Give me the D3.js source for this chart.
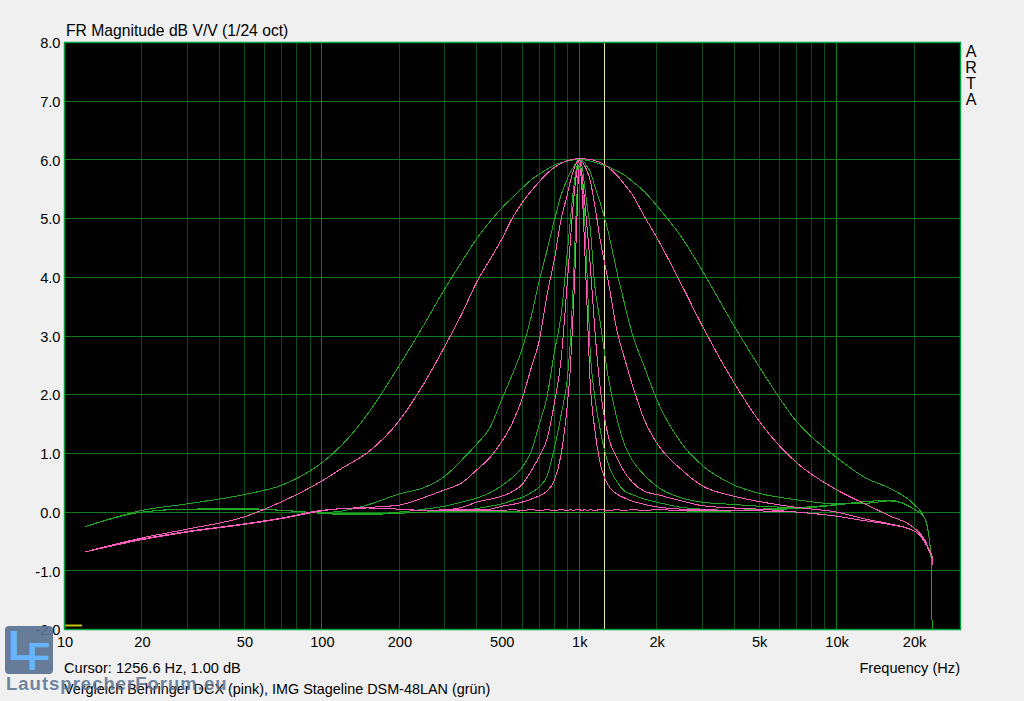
<!DOCTYPE html>
<html lang="en">

<head>
	<meta charset="UTF-8">
	<script src="https://cdn.jsdelivr.net/npm/d3@7"></script>
	<title>FR Magnitude</title>
</head>

<style>
html, body {
	margin: 0;
	padding: 0;
	background: #f0f0f0;
	overflow: hidden;
}
svg {
	display: block;
}
text {
	font-family: "Liberation Sans", Arial, sans-serif;
	font-size: 14.6px;
	fill: #000;
}
.curve {
	fill: none;
	stroke-width: 1;
	shape-rendering: crispEdges;
}
</style>

<body>
	<div id="chart"></div>
</body>

<script>
	// frequencies the curves were read at (Hz)
	let freqs = [12, 20, 30, 50, 70, 100, 120, 150, 200, 250, 300, 350, 400, 450, 500, 550, 600, 650, 700, 750, 800, 850, 900, 925, 950, 975, 1000, 1025, 1050, 1075, 1100, 1150, 1200, 1300, 1400, 1500, 1600, 1800, 2000, 2500, 3000, 4000, 5000, 7000, 10000, 13000, 16000, 20000, 22000, 23000, 23400, 23500, 23700]

	// IMG Stageline (green), wide to narrow Q, dB
	let green1 = [-0.25, 0.03, 0.14, 0.30, 0.46, 0.84, 1.15, 1.66, 2.5, 3.2, 3.8, 4.27, 4.66, 4.95, 5.18, 5.36, 5.52, 5.66, 5.76, 5.84, 5.91, 5.95, 5.98, 5.99, 6.0, 6.01, 6.01, 6.01, 6.0, 5.99, 5.98, 5.96, 5.93, 5.88, 5.81, 5.74, 5.64, 5.45, 5.22, 4.68, 4.12, 3.17, 2.48, 1.54, 0.93, 0.58, 0.41, 0.13, -0.1, -0.52, -0.98, -2.0, null]
	let green2 = [-0.25, 0.0, 0.05, 0.05, 0.03, -0.01, 0.02, 0.12, 0.31, 0.42, 0.61, 0.89, 1.16, 1.44, 1.92, 2.35, 2.78, 3.32, 3.95, 4.46, 4.97, 5.4, 5.68, 5.8, 5.88, 5.96, 6.0, 5.99, 5.95, 5.88, 5.81, 5.55, 5.3, 4.75, 4.1, 3.55, 3.07, 2.45, 1.92, 1.17, 0.8, 0.46, 0.32, 0.21, 0.14, 0.15, 0.19, 0.05, -0.1, -0.52, -0.98, -2.0, null]
	let green3 = [-0.25, 0.0, 0.05, 0.06, 0.03, -0.02, -0.03, -0.03, 0.0, 0.05, 0.1, 0.17, 0.24, 0.33, 0.45, 0.59, 0.76, 1.03, 1.5, 1.97, 2.72, 3.35, 4.45, 5.0, 5.5, 5.85, 6.0, 5.9, 5.55, 5.2, 4.9, 3.85, 3.3, 2.27, 1.6, 1.15, 0.9, 0.62, 0.44, 0.24, 0.17, 0.13, 0.1, 0.08, 0.13, 0.18, 0.2, 0.05, -0.1, -0.52, -0.98, -2.0, null]
	let green4 = [-0.25, 0.0, 0.05, 0.06, 0.03, -0.02, -0.04, -0.04, -0.02, 0.0, 0.01, 0.03, 0.06, 0.1, 0.14, 0.2, 0.25, 0.33, 0.43, 0.62, 1.08, 1.65, 2.3, 2.95, 3.95, 5.2, 5.95, 5.6, 5.0, 3.95, 2.85, 1.95, 1.46, 0.8, 0.52, 0.36, 0.3, 0.22, 0.17, 0.08, 0.05, 0.03, 0.05, 0.07, 0.12, 0.18, 0.2, 0.05, -0.1, -0.52, -0.98, -2.0, null]
	let greenFlat = [-0.25, 0.0, 0.05, 0.06, 0.03, -0.02, -0.04, -0.04, -0.02, 0.0, 0.01, 0.01, 0.01, 0.01, 0.01, 0.01, 0.0, 0.0, 0.0, 0.0, 0.0, 0.0, 0.0, 0.0, 0.0, 0.0, 0.0, 0.0, 0.0, 0.0, 0.0, 0.0, 0.0, 0.0, 0.0, 0.0, 0.0, 0.0, 0.0, 0.0, 0.01, 0.02, 0.04, 0.06, 0.12, 0.18, 0.2, 0.05, -0.1, -0.52, -0.98, -2.0, null]

	// Behringer DCX (pink), wide to narrow Q, dB
	let pink1 = [-0.68, -0.44, -0.29, -0.08, 0.18, 0.53, 0.75, 1.01, 1.56, 2.2, 2.82, 3.38, 3.92, 4.3, 4.65, 5.01, 5.27, 5.47, 5.63, 5.77, 5.87, 5.94, 5.99, 6.0, 6.01, 6.02, 6.02, 6.02, 6.02, 6.01, 6.01, 5.99, 5.96, 5.87, 5.74, 5.58, 5.42, 5.02, 4.68, 3.87, 3.18, 2.2, 1.55, 0.84, 0.38, 0.13, -0.06, -0.27, -0.47, -0.66, -0.72, -0.76, -0.9]
	let pink2 = [-0.68, -0.46, -0.33, -0.2, -0.1, 0.03, 0.06, 0.08, 0.12, 0.25, 0.38, 0.5, 0.72, 0.93, 1.2, 1.52, 1.93, 2.45, 2.93, 3.7, 4.3, 4.98, 5.42, 5.65, 5.82, 5.95, 6.0, 5.97, 5.9, 5.8, 5.67, 5.22, 4.7, 3.9, 3.1, 2.62, 2.2, 1.55, 1.18, 0.72, 0.45, 0.27, 0.18, 0.08, 0.0, -0.12, -0.2, -0.32, -0.5, -0.68, -0.76, -0.8, -0.9]
	let pink3 = [-0.68, -0.47, -0.34, -0.21, -0.11, 0.02, 0.06, 0.07, 0.05, 0.03, 0.04, 0.08, 0.17, 0.22, 0.27, 0.35, 0.47, 0.7, 0.95, 1.25, 1.85, 2.6, 3.95, 4.65, 5.3, 5.75, 6.0, 5.75, 5.3, 4.8, 4.3, 3.1, 2.2, 1.27, 0.93, 0.68, 0.52, 0.35, 0.3, 0.19, 0.11, 0.07, 0.05, 0.0, -0.07, -0.15, -0.21, -0.32, -0.51, -0.68, -0.76, -0.8, -0.9]
	let pink4 = [-0.68, -0.47, -0.34, -0.21, -0.11, 0.02, 0.06, 0.07, 0.05, 0.02, 0.03, 0.04, 0.04, 0.05, 0.1, 0.13, 0.17, 0.22, 0.28, 0.36, 0.54, 0.98, 1.85, 2.5, 3.5, 4.75, 5.9, 5.5, 4.5, 3.4, 2.3, 1.4, 0.88, 0.45, 0.31, 0.24, 0.19, 0.13, 0.09, 0.05, 0.04, 0.03, 0.02, 0.0, -0.07, -0.15, -0.21, -0.32, -0.51, -0.68, -0.76, -0.8, -0.9]
	let pinkFlat = [-0.68, -0.47, -0.34, -0.21, -0.11, 0.02, 0.06, 0.07, 0.05, 0.02, 0.03, 0.03, 0.03, 0.03, 0.03, 0.04, 0.03, 0.04, 0.03, 0.04, 0.03, 0.04, 0.03, 0.04, 0.03, 0.04, 0.04, 0.03, 0.04, 0.03, 0.04, 0.03, 0.04, 0.03, 0.04, 0.03, 0.04, 0.03, 0.04, 0.03, 0.03, 0.03, 0.02, 0.0, -0.07, -0.15, -0.21, -0.32, -0.51, -0.68, -0.76, -0.8, -0.9]

	let greens = [green1, green2, green3, green4, greenFlat]
	let pinks = [pink1, pink2, pink3, pink4, pinkFlat]

	let dbTicks = [-2, -1, 0, 1, 2, 3, 4, 5, 6, 7, 8]
	let freqTicks = [10, 20, 50, 100, 200, 500, 1000, 2000, 5000, 10000, 20000]
	let freqLabels = ['10', '20', '50', '100', '200', '500', '1k', '2k', '5k', '10k', '20k']
	let majorGrid = [100, 1000, 10000]
	let minorGrid = [20, 30, 40, 50, 60, 70, 80, 90, 200, 300, 400, 500, 600, 700, 800, 900, 2000, 3000, 4000, 5000, 6000, 7000, 8000, 9000, 20000]
	let cursorHz = 1256.6
	let markerHz = [10, 11.7]
	let artaLetters = ['A', 'R', 'T', 'A']

	let width = 1024, height = 701
	let plotL = 64.5, plotR = 960.5, plotT = 42.5, plotB = 629.5

	let svg = d3.select('#chart').append('svg')
		.attr('width', width)
		.attr('height', height)

	let x = d3.scaleLog().domain([10, 30300]).range([plotL, plotR])
	let y = d3.scaleLinear().domain([-2, 8]).range([plotB, plotT])

	let plot = svg.append('g')
	plot.append('rect')
		.attr('x', plotL)
		.attr('y', plotT)
		.attr('width', plotR - plotL)
		.attr('height', plotB - plotT)
		.attr('fill', '#000')

	// grid
	let grid = plot.append('g').attr('shape-rendering', 'crispEdges')
	function vlines(vals, color) {
		grid.selectAll(null).data(vals).enter().append('line')
			.attr('x1', d => x(d))
			.attr('x2', d => x(d))
			.attr('y1', plotT)
			.attr('y2', plotB)
			.attr('stroke', color)
	}
	vlines(minorGrid, '#0b4d1c')
	vlines(majorGrid, '#0c7a1c')
	grid.selectAll(null).data(dbTicks).enter().append('line')
		.attr('x1', plotL)
		.attr('x2', plotR)
		.attr('y1', d => y(d))
		.attr('y2', d => y(d))
		.attr('stroke', '#0c7a1c')

	// cursor sits under the curves
	plot.append('line')
		.attr('x1', x(cursorHz))
		.attr('x2', x(cursorHz))
		.attr('y1', plotT)
		.attr('y2', plotB)
		.attr('stroke', '#e8e8a8')
		.attr('shape-rendering', 'crispEdges')

	let line = d3.line()
		.defined(d => d[1] !== null)
		.x(d => x(d[0]))
		.y(d => y(d[1]))
		.curve(d3.curveMonotoneX)

	function drawCurves(list, color) {
		list.forEach(vals => {
			plot.append('path')
				.datum(freqs.map((f, i) => [f, vals[i]]))
				.attr('class', 'curve')
				.attr('stroke', color)
				.attr('d', line)
		})
	}
	drawCurves(greens, '#22a522')
	drawCurves(pinks, '#ff5cbc')

	// little marker bottom left
	plot.append('line')
		.attr('x1', x(markerHz[0]))
		.attr('x2', x(markerHz[1]))
		.attr('y1', 625.5)
		.attr('y2', 625.5)
		.attr('stroke', '#c4c400')
		.attr('stroke-width', 2)

	plot.append('rect')
		.attr('x', plotL)
		.attr('y', plotT)
		.attr('width', plotR - plotL)
		.attr('height', plotB - plotT)
		.attr('fill', 'none')
		.attr('stroke', '#00a040')
		.attr('stroke-width', 1.5)

	// axes
	let yAxis = svg.append('g')
		.attr('transform', `translate(${plotL - 4},0)`)
		.call(d3.axisLeft(y).tickValues(dbTicks).tickSize(0).tickPadding(0).tickFormat(d => d.toFixed(1)))
	let xAxis = svg.append('g')
		.attr('transform', `translate(0,${plotB + 7})`)
		.call(d3.axisBottom(x).tickValues(freqTicks).tickSize(0).tickPadding(0).tickFormat((d, i) => freqLabels[i]))
	yAxis.select('.domain').remove()
	xAxis.select('.domain').remove()
	svg.selectAll('.tick text')
		.style('font-family', '"Liberation Sans", Arial, sans-serif')
		.style('font-size', '14.6px')
		.attr('fill', '#000')
	yAxis.selectAll('.tick text').attr('dy', '0.36em').attr('x', 0)

	svg.append('text').attr('x', 66).attr('y', 35.5).style('font-size', '15.7px').text('FR Magnitude dB V/V (1/24 oct)')
	svg.append('text').attr('x', 64).attr('y', 672.5).text('Cursor: 1256.6 Hz, 1.00 dB')
	svg.append('text').attr('x', 960).attr('y', 672.5).attr('text-anchor', 'end').text('Frequency (Hz)')
	svg.append('text').attr('x', 64).attr('y', 693.5).style('font-size', '14.4px').text('Vergleich Behringer DCX (pink), IMG Stageline DSM-48LAN (grün)')

	svg.selectAll(null).data(artaLetters).enter().append('text')
		.attr('x', 971)
		.attr('y', (d, i) => 56.5 + i * 16)
		.attr('text-anchor', 'middle')
		.style('font-size', '16px')
		.text(d => d)

	// forum logo lies over the bottom left corner
	let logo = svg.append('g')
	logo.append('rect')
		.attr('x', 5)
		.attr('y', 626)
		.attr('width', 48)
		.attr('height', 48)
		.attr('rx', 4)
		.attr('fill', '#5a7290')
		.attr('opacity', 0.92)
	logo.append('text')
		.attr('x', 8)
		.attr('y', 660)
		.style('font-size', '42px')
		.style('font-weight', 'bold')
		.style('fill', '#66b4ff')
		.text('L')
	logo.append('text')
		.attr('x', 27)
		.attr('y', 670)
		.style('font-size', '38px')
		.style('font-weight', 'bold')
		.style('fill', '#66b4ff')
		.text('F')
	logo.append('text')
		.attr('x', 6)
		.attr('y', 690)
		.style('font-size', '18.5px')
		.style('font-weight', 'bold')
		.style('letter-spacing', '1px')
		.style('fill', '#5a7290')
		.attr('opacity', 0.85)
		.text('LautsprecherForum.eu')
</script>

</html>
